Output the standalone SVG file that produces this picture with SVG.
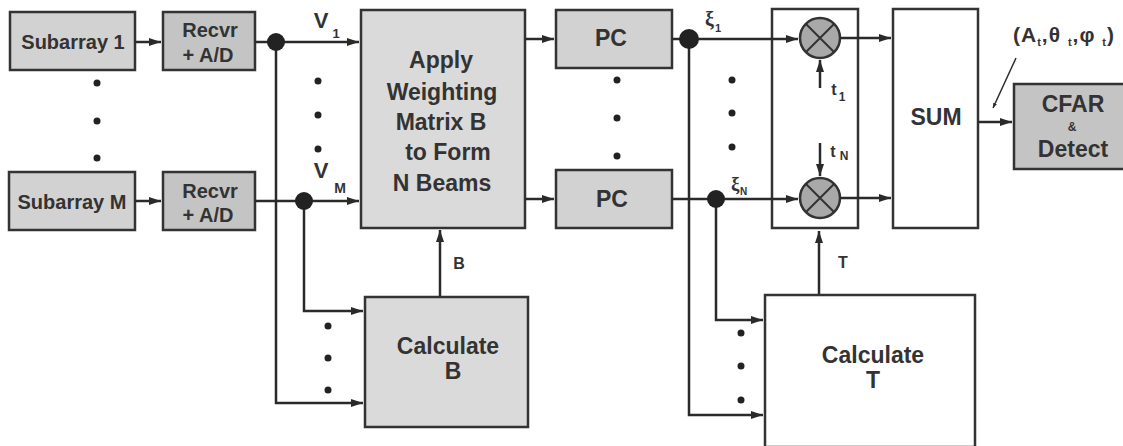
<svg xmlns="http://www.w3.org/2000/svg" width="1123" height="446" viewBox="0 0 1123 446">
<defs>
<marker id="ah" viewBox="0 0 10 10" refX="10" refY="5" markerWidth="5" markerHeight="5" orient="auto-start-reverse" markerUnits="userSpaceOnUse">
<path d="M0,1 L10,5 L0,9 Z" fill="#2a2a2a"/>
</marker>
<marker id="a" viewBox="0 0 12 10" refX="12" refY="5" markerWidth="12" markerHeight="10" orient="auto" markerUnits="userSpaceOnUse">
<path d="M0,1 L12,5 L0,9 Z" fill="#2a2a2a"/>
</marker>
<style>
.box{stroke:#333;stroke-width:2.5}
.g1{fill:#d2d2d2}
.g2{fill:#c4c4c4}
.g3{fill:#dadada}
.w{fill:#fff}
.n{fill:none}
.t{font-family:"Liberation Sans",Arial,sans-serif;font-weight:bold;fill:#333;text-anchor:middle}
.c{fill:none;stroke:#2a2a2a;stroke-width:2.5}
.d{fill:#222}
</style>
</defs>
<rect width="1123" height="446" fill="#fff"/>

<g id="subarray1"><rect class="box g1" x="10" y="12" width="125" height="58"/><text class="t" x="73" y="49" font-size="20">Subarray 1</text></g>
<g id="subarrayM"><rect class="box g1" x="9" y="172" width="126" height="58"/><text class="t" x="72" y="209" font-size="20">Subarray M</text></g>
<g id="recvr1"><rect class="box g2" x="163" y="12" width="92" height="58"/><text class="t" x="210" y="37" font-size="20">Recvr</text><text class="t" x="208" y="62" font-size="20">+ A/D</text></g>
<g id="recvrM"><rect class="box g2" x="163" y="172" width="92" height="58"/><text class="t" x="210" y="198" font-size="20">Recvr</text><text class="t" x="208" y="222" font-size="20">+ A/D</text></g>
<g id="apply"><rect class="box g3" x="361" y="10" width="164" height="218"/>
<text class="t" x="441" y="68" font-size="23">Apply</text>
<text class="t" x="442" y="100" font-size="23">Weighting</text>
<text class="t" x="441" y="130" font-size="23">Matrix B</text>
<text class="t" x="448" y="160" font-size="23">to Form</text>
<text class="t" x="442" y="191" font-size="23">N Beams</text></g>
<g id="pc1"><rect class="box g1" x="556" y="10" width="116" height="58"/><text class="t" x="611" y="46" font-size="23">PC</text></g>
<g id="pcN"><rect class="box g1" x="556" y="170" width="116" height="58"/><text class="t" x="612" y="207" font-size="23">PC</text></g>
<g id="multbox"><rect class="box n" x="772" y="9" width="86" height="219"/></g>
<g id="mult1"><circle cx="820" cy="38" r="20" fill="#a9a9a9" stroke="#333" stroke-width="2.5"/><path d="M806,24 L834,52 M834,24 L806,52" stroke="#333" stroke-width="2"/></g>
<g id="multN"><circle cx="820" cy="198" r="20" fill="#a9a9a9" stroke="#333" stroke-width="2.5"/><path d="M806,184 L834,212 M834,184 L806,212" stroke="#333" stroke-width="2"/></g>
<g id="sum"><rect class="box w" x="893" y="9" width="85" height="219"/><text class="t" x="936" y="125" font-size="23">SUM</text></g>
<g id="cfar"><rect class="box g2" x="1014" y="84" width="112" height="85"/><text class="t" x="1073" y="112" font-size="23">CFAR</text><text class="t" x="1072" y="131" font-size="12">&amp;</text><text class="t" x="1073" y="157" font-size="23">Detect</text></g>
<g id="calcB"><rect class="box g3" x="365" y="297" width="163" height="130"/><text class="t" x="448" y="354" font-size="23">Calculate</text><text class="t" x="453" y="379" font-size="23">B</text></g>
<g id="calcT"><rect class="box w" x="765" y="295" width="210" height="152"/><text class="t" x="873" y="363" font-size="23">Calculate</text><text class="t" x="873" y="388" font-size="23">T</text></g>

<g id="connectors">
<path class="c" d="M135,42 H161" marker-end="url(#a)"/>
<path class="c" d="M135,201 H161" marker-end="url(#a)"/>
<path class="c" d="M255,42 H359" marker-end="url(#a)"/>
<path class="c" d="M255,201 H359" marker-end="url(#a)"/>
<path class="c" d="M276,42 V403 H363" marker-end="url(#a)"/>
<path class="c" d="M304,201 V311 H363" marker-end="url(#a)"/>
<path class="c" d="M440,296 V230" marker-end="url(#a)"/>
<path class="c" d="M525,39 H554" marker-end="url(#a)"/>
<path class="c" d="M525,199 H554" marker-end="url(#a)"/>
<path class="c" d="M672,39 H798" marker-end="url(#a)"/>
<path class="c" d="M672,199 H798" marker-end="url(#a)"/>
<path class="c" d="M689,39 V415 H763" marker-end="url(#a)"/>
<path class="c" d="M716,199 V320 H763" marker-end="url(#a)"/>
<path class="c" d="M819,294 V231" marker-end="url(#a)"/>
<path class="c" d="M820,88 V60" marker-end="url(#a)"/>
<path class="c" d="M820,143 V176" marker-end="url(#a)"/>
<path class="c" d="M840,38 H891" marker-end="url(#a)"/>
<path class="c" d="M840,198 H891" marker-end="url(#a)"/>
<path class="c" d="M978,122 H1012" marker-end="url(#a)"/>
<path fill="none" stroke="#2a2a2a" stroke-width="1.5" d="M1016,58 L993,108" marker-end="url(#ah)"/>
<circle class="d" cx="276" cy="42" r="9"/>
<circle class="d" cx="304" cy="201" r="9"/>
<circle class="d" cx="689" cy="39" r="10"/>
<circle class="d" cx="716" cy="199" r="9"/>
</g>

<g id="dots" class="d">
<circle cx="97" cy="83" r="3.5"/><circle cx="97" cy="121" r="3.5"/><circle cx="97" cy="158" r="3.5"/>
<circle cx="318" cy="81" r="3.5"/><circle cx="318" cy="115" r="3.5"/><circle cx="318" cy="149" r="3.5"/>
<circle cx="617" cy="80" r="3.5"/><circle cx="617" cy="118" r="3.5"/><circle cx="617" cy="156" r="3.5"/>
<circle cx="732" cy="80" r="3.5"/><circle cx="732" cy="113" r="3.5"/><circle cx="732" cy="147" r="3.5"/>
<circle cx="328" cy="326" r="3.5"/><circle cx="328" cy="358" r="3.5"/><circle cx="328" cy="390" r="3.5"/>
<circle cx="741" cy="333" r="3.5"/><circle cx="741" cy="366" r="3.5"/><circle cx="741" cy="400" r="3.5"/>
</g>

<g id="labels">
<text class="t" x="321" y="28" font-size="22">V</text><text class="t" x="336" y="38" font-size="13">1</text>
<text class="t" x="321" y="178" font-size="22">V</text><text class="t" x="340" y="193" font-size="14">M</text>
<text class="t" x="459" y="269" font-size="16">B</text>
<text x="705" y="26" font-family="Liberation Serif,serif" font-weight="bold" font-size="20" fill="#333">ξ</text><text x="715" y="32" font-family="Liberation Sans,sans-serif" font-weight="bold" font-size="11" fill="#333">1</text>
<text x="731" y="190" font-family="Liberation Serif,serif" font-weight="bold" font-size="19" fill="#333">ξ</text><text x="740" y="195" font-family="Liberation Sans,sans-serif" font-weight="bold" font-size="10" fill="#333">N</text>
<text class="t" x="834" y="95" font-size="16">t</text><text class="t" x="842" y="101" font-size="12">1</text>
<text class="t" x="833" y="157" font-size="16">t</text><text class="t" x="844" y="160" font-size="12">N</text>
<text class="t" x="843" y="268" font-size="16">T</text>
<text x="1013" y="42" font-family="Liberation Sans,sans-serif" font-weight="bold" font-size="21" letter-spacing="1" fill="#333">(A<tspan font-size="11" dy="4">t</tspan><tspan dy="-4">,θ </tspan><tspan font-size="11" dy="4">t</tspan><tspan dy="-4">,φ </tspan><tspan font-size="11" dy="4">t</tspan><tspan dy="-4">)</tspan></text>
</g>
</svg>
